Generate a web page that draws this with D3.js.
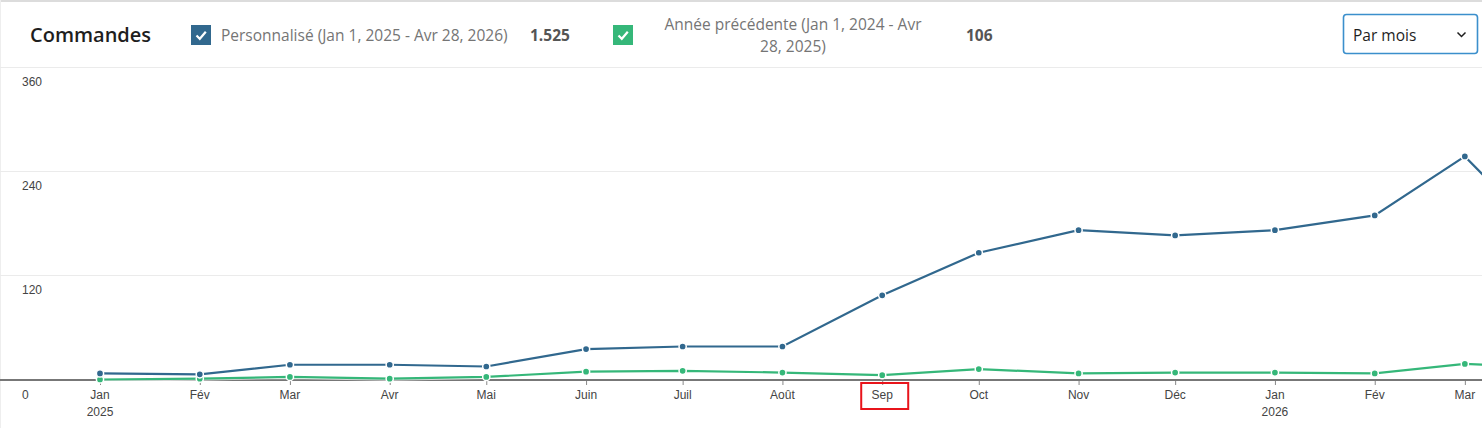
<!DOCTYPE html>
<html>
<head>
<meta charset="utf-8">
<script src="https://cdn.jsdelivr.net/npm/d3@7"></script>
<style>
  html, body { margin: 0; padding: 0; background: #fff; overflow: hidden; }
  svg { display: block; }
</style>
</head>
<body>
<div id="chart"></div>
<script>
// months (1st of each month) and values
var months = ["2025-01-01","2025-02-01","2025-03-01","2025-04-01","2025-05-01","2025-06-01",
              "2025-07-01","2025-08-01","2025-09-01","2025-10-01","2025-11-01","2025-12-01",
              "2026-01-01","2026-02-01","2026-03-01","2026-04-01"];
var currentValues  = [7, 6, 17, 17, 15, 35, 38, 38, 97, 146, 172, 166, 172, 189, 257, 140];
var previousValues = [0, 1, 3, 1, 3, 9, 10, 8, 5, 12, 7, 8, 8, 7, 18, 13];
var monthLabels = ["Jan","Fév","Mar","Avr","Mai","Juin","Juil","Août","Sep","Oct","Nov","Déc"];
var yTicks = [0, 120, 240, 360];

var seriesNames = ["Personnalisé (Jan 1, 2025 - Avr 28, 2026)", "Année précédente (Jan 1, 2024 - Avr 28, 2025)"];
var seriesTotals = ["1.525", "106"];
var colors = ["#31688e", "#35b779"];
var highlighted = "2025-09-01";

var width = 1482, height = 428;
var parse = d3.timeParse("%Y-%m-%d");
var dates = months.map(parse);

var svg = d3.select("#chart").append("svg")
    .attr("width", width)
    .attr("height", height);

var hfont = "'Open Sans', 'Noto Sans', sans-serif";
var afont = "'Liberation Sans', Arial, sans-serif";
var lsize = "15.5px";

// --- header ---
svg.append("line").attr("x1", 0).attr("x2", width).attr("y1", 1).attr("y2", 1)
    .attr("stroke", "#dcdcdc").attr("stroke-width", 2);
svg.append("line").attr("x1", 0.5).attr("x2", 0.5).attr("y1", 0).attr("y2", height)
    .attr("stroke", "#eeeeee");

svg.append("text").text("Commandes")
    .attr("x", 30).attr("y", 42)
    .attr("font-family", hfont).attr("font-size", "20px").attr("font-weight", 600)
    .attr("fill", "#1e1e1e");

function checkbox(x, color) {
  var g = svg.append("g").attr("transform", "translate(" + x + ",25)");
  g.append("rect").attr("width", 20).attr("height", 20).attr("fill", color);
  g.append("path").attr("d", "M5.5,10.5 L8.8,13.8 L14.8,6.8")
      .attr("fill", "none").attr("stroke", "#fff").attr("stroke-width", 2.2);
}

checkbox(191, colors[0]);
svg.append("text").text(seriesNames[0])
    .attr("x", 221).attr("y", 41)
    .attr("font-family", hfont).attr("font-size", lsize).attr("fill", "#757575");
svg.append("text").text(seriesTotals[0])
    .attr("x", 530).attr("y", 41)
    .attr("font-family", hfont).attr("font-size", lsize).attr("font-weight", 700).attr("fill", "#555");

checkbox(613, colors[1]);
var t2 = svg.append("text")
    .attr("font-family", hfont).attr("font-size", lsize).attr("fill", "#757575")
    .attr("text-anchor", "middle");
t2.append("tspan").attr("x", 793).attr("y", 30).text("Année précédente (Jan 1, 2024 - Avr");
t2.append("tspan").attr("x", 793).attr("y", 52).text("28, 2025)");
svg.append("text").text(seriesTotals[1])
    .attr("x", 966).attr("y", 41)
    .attr("font-family", hfont).attr("font-size", lsize).attr("font-weight", 700).attr("fill", "#555");

// period dropdown
svg.append("rect").attr("x", 1343.5).attr("y", 14.5).attr("width", 134).attr("height", 39).attr("rx", 3)
    .attr("fill", "#fff").attr("stroke", "#3b8fcc").attr("stroke-width", 1.6);
svg.append("text").text("Par mois")
    .attr("x", 1353).attr("y", 41)
    .attr("font-family", hfont).attr("font-size", lsize).attr("fill", "#1e1e1e");
svg.append("path").attr("d", "M1457.5,32.5 L1461.5,36.5 L1465.5,32.5")
    .attr("fill", "none").attr("stroke", "#1e1e1e").attr("stroke-width", 1.5);

// --- scales ---
var x = d3.scaleTime()
    .domain([dates[0], dates[dates.length - 1]])
    .range([100, 100 + 455 * 3.219]);
var y = d3.scaleLinear().domain([0, 360]).range([379.5, 67]);

// gridlines
svg.append("g").selectAll("line")
    .data(yTicks.filter(function(d) { return d > 0; }))
    .enter().append("line")
    .attr("x1", 0).attr("x2", width)
    .attr("y1", function(d) { return Math.round(y(d)) + 0.5; })
    .attr("y2", function(d) { return Math.round(y(d)) + 0.5; })
    .attr("stroke", "#ebebeb");

// y labels
svg.append("g").selectAll("text")
    .data(yTicks)
    .enter().append("text")
    .text(function(d) { return d; })
    .attr("x", 22)
    .attr("y", function(d) { return y(d) + 19; })
    .attr("font-family", afont).attr("font-size", "12px").attr("fill", "#444");

// x axis
var xAxis = d3.axisBottom(x)
    .tickValues(dates.slice(0, 15))
    .tickSize(5)
    .tickFormat("");
var ax = svg.append("g").attr("transform", "translate(0," + 380 + ")").call(xAxis);
ax.select(".domain").remove();
ax.selectAll(".tick line").attr("stroke", "#888");
svg.append("line").attr("x1", 0).attr("x2", width).attr("y1", 380).attr("y2", 380)
    .attr("stroke", "#777").attr("stroke-width", 2);

var labels = svg.append("g").selectAll("g")
    .data(dates.slice(0, 15))
    .enter().append("text")
    .attr("x", function(d) { return x(d); })
    .attr("text-anchor", "middle")
    .attr("font-family", afont).attr("font-size", "12px").attr("fill", "#444");
labels.append("tspan")
    .attr("x", function(d) { return x(d); }).attr("y", 399)
    .text(function(d) { return monthLabels[d.getMonth()]; });
labels.filter(function(d) { return d.getMonth() === 0; })
    .append("tspan")
    .attr("x", function(d) { return x(d); }).attr("y", 416)
    .text(function(d) { return d.getFullYear(); });

// highlight box round the selected month label
var hx = x(parse(highlighted));
svg.append("rect")
    .attr("x", hx - 21).attr("y", 383).attr("width", 47).attr("height", 26)
    .attr("fill", "none").attr("stroke", "#e8141b").attr("stroke-width", 2);

// --- lines ---
var series = [previousValues, currentValues];
var seriesColors = [colors[1], colors[0]];
var line = d3.line()
    .x(function(d, i) { return x(dates[i]); })
    .y(function(d) { return y(d); });

series.forEach(function(vals, s) {
  svg.append("path")
      .datum(vals)
      .attr("d", line)
      .attr("fill", "none")
      .attr("stroke", "#fff")
      .attr("stroke-opacity", 0.7)
      .attr("stroke-width", 4);
  svg.append("path")
      .datum(vals)
      .attr("d", line)
      .attr("fill", "none")
      .attr("stroke", seriesColors[s])
      .attr("stroke-width", 2.2);
  svg.append("g").selectAll("circle")
      .data(vals)
      .enter().append("circle")
      .attr("cx", function(d, i) { return x(dates[i]); })
      .attr("cy", function(d) { return y(d); })
      .attr("r", 3.6)
      .attr("fill", seriesColors[s])
      .attr("stroke", "#fff")
      .attr("stroke-width", 1.5);
});
</script>
</body>
</html>
